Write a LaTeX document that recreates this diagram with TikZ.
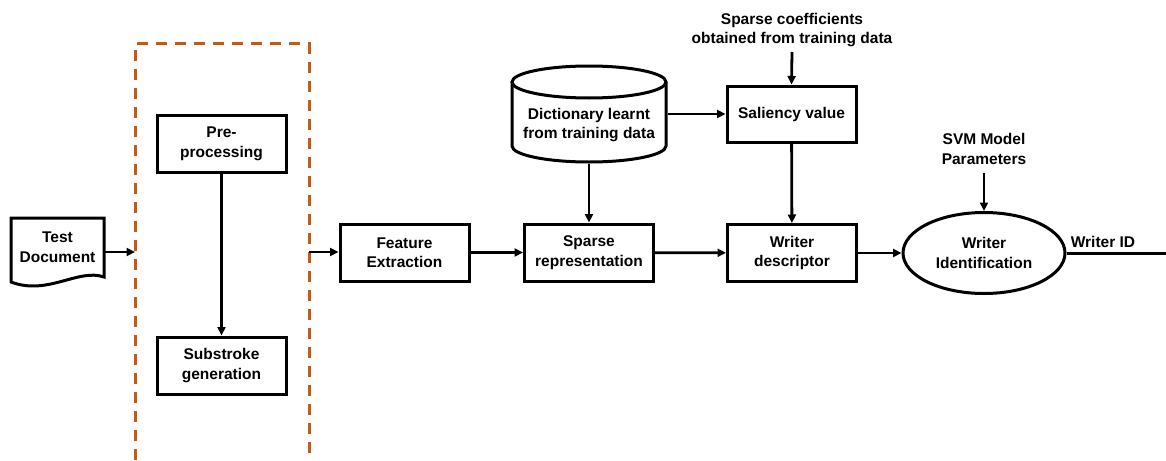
\documentclass[tikz,border=0pt]{standalone}
\usepackage{fontspec}
\setmainfont{Liberation Sans}
\usetikzlibrary{arrows.meta,shapes.geometric}
\definecolor{stageorange}{HTML}{C55A11}
\begin{document}
\begin{tikzpicture}[x=1pt,y=-1pt,
  font=\fontsize{15.5}{19.5}\selectfont\bfseries,
  line width=3pt,
  box/.style={draw,rectangle,line width=3pt,minimum width=129pt,minimum height=57pt,align=center,inner sep=2pt},
  label/.style={align=center,inner sep=1pt},
  flow/.style={-{Triangle[length=8.5pt,width=8pt]},line width=2.8pt},
  stage/.style={draw=stageorange,line width=3pt,dash pattern=on 11pt off 8pt}]
\useasboundingbox (0,0) rectangle (1166,460);

% test document (sheet with wavy lower edge)
\draw (11,218) -- (104,218) -- (104,277)
  .. controls (78,268) and (48,296) .. (11,282) -- cycle;
\node[label] (doc) at (57.5,247) {Test\\Document};
\coordinate (docout) at (104,252);

% preprocessing stage frame, open at the bottom
\draw[stage] (135,460) -- (135,44) -- (309,44) -- (309,460);
\coordinate (stin) at (135,252);
\coordinate (stout) at (309,252);

\node[box] (pre) at (221.5,144) {Pre-\\processing};
\node[box] (sub) at (221.5,365.5) {Substroke\\generation};

\node[box] (feat) at (404.5,252.5) {Feature\\Extraction};
\node[box] (sparse) at (589,252.5) {Sparse\\representation};
\node[box] (wdesc) at (792,253) {Writer\\descriptor};
\node[box,minimum height=56pt] (sal) at (791.5,114) {Saliency value};

% dictionary store
\draw (512,82) -- (512,146) arc[start angle=180,end angle=360,x radius=77pt,y radius=16pt] -- (666,82);
\draw (589,82) ellipse[x radius=77pt,y radius=16pt];
\node[minimum width=154pt,minimum height=96pt,inner sep=0pt] (dict) at (589,114) {};
\node[label] (dicttxt) at (589,125) {Dictionary learnt\\from training data};

\node[draw,ellipse,line width=3pt,minimum width=162pt,minimum height=81pt,inner sep=0pt,align=center] (wid) at (984,253)
  {Writer\\Identification};

\node[label] (coef) at (792,30) {Sparse coefficients\\obtained from training data};
\node[label] (svm) at (984,149) {SVM Model\\Parameters};
\coordinate (coefend) at (792,52);
\coordinate (svmend) at (984,173);

\coordinate (out) at (1166,253);
\node[label] (outlbl) at (1103,242) {Writer ID};

% connectors
\draw[flow] (docout) -- (stin);
\draw[flow] (pre) -- (sub);
\draw[flow] (stout) -- (feat.west |- stout);
\draw[flow] (feat) -- (sparse);
\draw[flow] (sparse) -- (wdesc);
\draw[flow] (wdesc) -- (wid);
\draw[flow] (dict.east) -- (sal.west);
\draw[flow] (dict.south) -- (sparse.north);
\draw[flow] (sal) -- (wdesc);
\draw[flow] (coefend) -- (sal.north);
\draw[flow] (svmend) -- (wid.north);
\draw (wid.east) -- (out);
\end{tikzpicture}
\end{document}
